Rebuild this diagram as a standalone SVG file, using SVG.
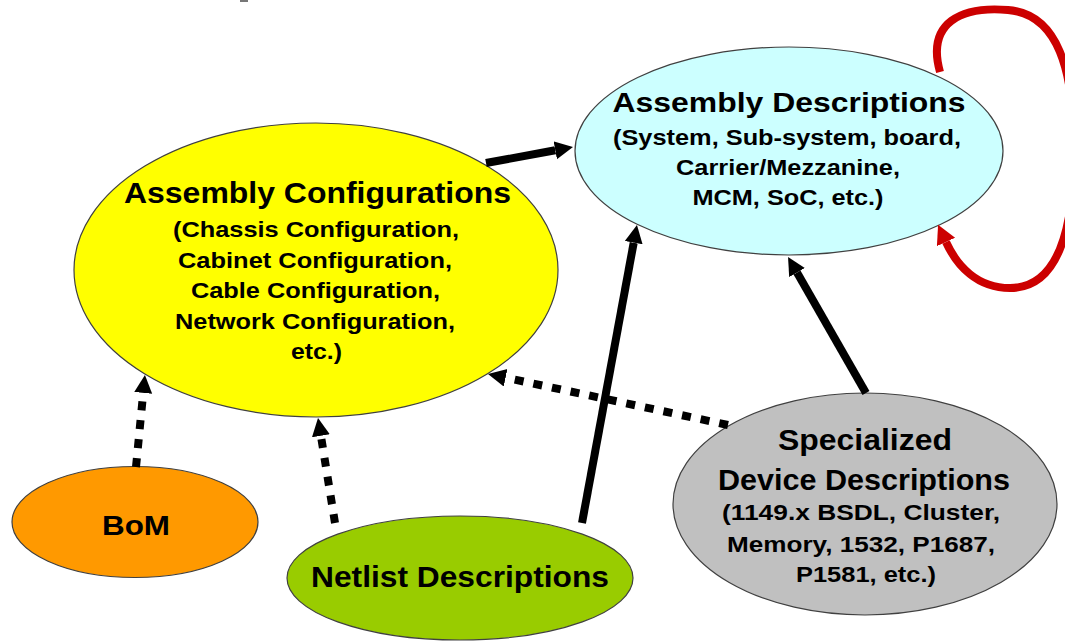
<svg xmlns="http://www.w3.org/2000/svg" width="1065" height="643" viewBox="0 0 1065 643">
<style>
  .node { stroke: #404040; stroke-width: 1.2; }
  .t { font-family: "Liberation Sans", Arial, sans-serif; font-weight: bold; fill: #000; text-anchor: middle; }
  .big { font-size: 30px; }
  .mid { font-size: 28px; }
  .sub { font-size: 22px; }
  .solid { stroke: #000; stroke-width: 8; fill: none; marker-end: url(#ah); }
  .dot { stroke: #000; stroke-width: 8; fill: none; stroke-dasharray: 9 10; marker-end: url(#ah); }
  .loop { stroke: #CC0000; stroke-width: 8; fill: none; marker-end: url(#ahr); }
</style>
<defs>
  <marker id="ah" markerUnits="userSpaceOnUse" markerWidth="20" markerHeight="20" refX="0" refY="9" orient="auto" viewBox="0 0 20 20">
    <path d="M0,0 L18,9 L0,18 z" fill="#000"/>
  </marker>
  <marker id="ahr" markerUnits="userSpaceOnUse" markerWidth="22" markerHeight="22" refX="0" refY="10" orient="auto" viewBox="0 0 22 22">
    <path d="M0,0 L19,10 L0,20 z" fill="#CC0000"/>
  </marker>
</defs>
<rect width="1065" height="643" fill="#fff"/>
<rect x="240" y="0" width="8" height="2" fill="#777"/>

<g id="assembly-configurations">
  <ellipse class="node" cx="316" cy="270" rx="242" ry="147" fill="#FFFF00"/>
  <text class="t big" x="317.5" y="203" textLength="387" lengthAdjust="spacingAndGlyphs">Assembly Configurations</text>
  <text class="t sub" x="316" y="237" textLength="286" lengthAdjust="spacingAndGlyphs">(Chassis Configuration,</text>
  <text class="t sub" x="315" y="267.5" textLength="274" lengthAdjust="spacingAndGlyphs">Cabinet Configuration,</text>
  <text class="t sub" x="315.5" y="298" textLength="249" lengthAdjust="spacingAndGlyphs">Cable Configuration,</text>
  <text class="t sub" x="315" y="328.5" textLength="280" lengthAdjust="spacingAndGlyphs">Network Configuration,</text>
  <text class="t sub" x="316.5" y="359" textLength="51" lengthAdjust="spacingAndGlyphs">etc.)</text>
</g>

<g id="assembly-descriptions">
  <ellipse class="node" cx="789" cy="151" rx="214" ry="104" fill="#CCFFFF"/>
  <text class="t mid" x="789" y="112" textLength="353" lengthAdjust="spacingAndGlyphs">Assembly Descriptions</text>
  <text class="t sub" x="787" y="145" textLength="348" lengthAdjust="spacingAndGlyphs">(System, Sub-system, board,</text>
  <text class="t sub" x="788" y="175" textLength="224" lengthAdjust="spacingAndGlyphs">Carrier/Mezzanine,</text>
  <text class="t sub" x="788" y="205" textLength="191" lengthAdjust="spacingAndGlyphs">MCM, SoC, etc.)</text>
</g>

<g id="specialized-device-descriptions">
  <ellipse class="node" cx="865" cy="504" rx="192" ry="111" fill="#C0C0C0"/>
  <text class="t big" x="865" y="450" textLength="174" lengthAdjust="spacingAndGlyphs">Specialized</text>
  <text class="t big" x="864" y="490" textLength="292" lengthAdjust="spacingAndGlyphs">Device Descriptions</text>
  <text class="t sub" x="861" y="520" textLength="278" lengthAdjust="spacingAndGlyphs">(1149.x BSDL, Cluster,</text>
  <text class="t sub" x="861" y="551.7" textLength="268" lengthAdjust="spacingAndGlyphs">Memory, 1532, P1687,</text>
  <text class="t sub" x="866" y="581.7" textLength="140" lengthAdjust="spacingAndGlyphs">P1581, etc.)</text>
</g>

<g id="bom">
  <ellipse class="node" cx="135" cy="522" rx="123" ry="55.5" fill="#FF9900"/>
  <text class="t mid" x="136" y="535" textLength="68" lengthAdjust="spacingAndGlyphs">BoM</text>
</g>

<g id="netlist-descriptions">
  <ellipse class="node" cx="460" cy="578" rx="173" ry="62" fill="#99CC00"/>
  <text class="t big" x="460" y="587" textLength="298" lengthAdjust="spacingAndGlyphs">Netlist Descriptions</text>
</g>

<g id="connectors">
  <line class="solid" x1="486" y1="163" x2="555.3" y2="150.3"/>
  <line class="solid" x1="582" y1="523" x2="633.7" y2="242.7"/>
  <line class="solid" x1="866" y1="393" x2="797" y2="272.6"/>
  <line class="dot" x1="728" y1="425" x2="505.6" y2="377.7"/>
  <line class="dot" x1="136" y1="467" x2="143.2" y2="392.9"/>
  <line class="dot" x1="335" y1="523" x2="320.9" y2="435.8"/>
  <path class="loop" d="M940,72 C926,22 962,6 1008,10 C1058,14 1074,70 1074,150 C1074,240 1054,288 1010,288 C977,288 957,266 946,242"/>
</g>
</svg>
